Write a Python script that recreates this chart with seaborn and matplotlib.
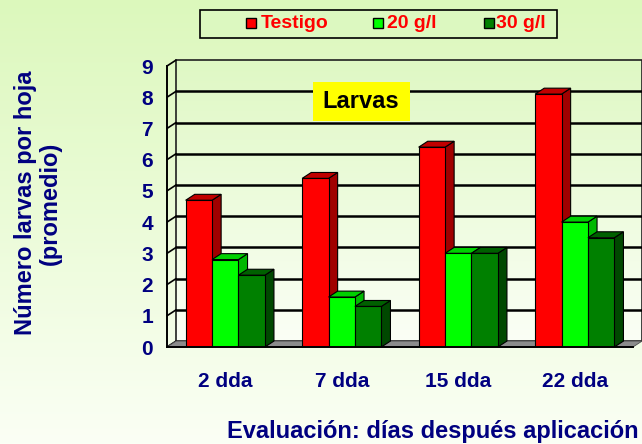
import numpy as np
import pandas as pd
import seaborn as sns
import matplotlib.pyplot as plt
from matplotlib.patches import Polygon, Rectangle
from matplotlib.colors import LinearSegmentedColormap

# data
dias = ["2 dda", "7 dda", "15 dda", "22 dda"]
tratamientos = ["Testigo", "20 g/l", "30 g/l"]
testigo = [4.7, 5.4, 6.4, 8.1]
g20 = [2.8, 1.6, 3.0, 4.0]
g30 = [2.3, 1.3, 3.0, 3.5]

front_cols = ["#ff0000", "#00ff00", "#008000"]
side_cols = ["#a00000", "#00b800", "#004800"]
top_cols = ["#c00000", "#00d000", "#006000"]
navy = "#000080"

df = pd.DataFrame({
    "dia": dias * 3,
    "trat": sum([[t] * 4 for t in tratamientos], []),
    "larvas": testigo + g20 + g30,
})

sns.set_style("white")
plt.rcParams["font.family"] = ["Liberation Sans", "DejaVu Sans"]
plt.rcParams["font.weight"] = "bold"

W, H = 642, 444
fig = plt.figure(figsize=(W / 100, H / 100), dpi=100)

def fx(px):
    return px / W

def fy(py):
    return 1 - py / H

# figure gradient background
bg = fig.add_axes([0, 0, 1, 1], zorder=-10)
grad = np.linspace(0, 1, 256).reshape(-1, 1)
cm_bg = LinearSegmentedColormap.from_list("bg", ["#dcf8bc", "#fbfff5"])
bg.imshow(grad, aspect="auto", cmap=cm_bg, extent=[0, 1, 0, 1], origin="upper")
bg.set_xlim(0, 1)
bg.set_ylim(0, 1)
bg.axis("off")

# axes placed so the front frame matches the reference
x0, x1, y0, y1 = 167, 633, 347, 66
ax = fig.add_axes([x0 / W, (H - y0) / H, (x1 - x0) / W, (y0 - y1) / H])
ax.patch.set_alpha(0)

sns.barplot(data=df, x="dia", y="larvas", hue="trat", hue_order=tratamientos,
            palette=front_cols, saturation=1, width=0.68, edgecolor="black",
            linewidth=0.8, legend=False, ax=ax)
bars = [p for p in ax.patches]

ax.set_xlim(-0.5, 3.5)
ax.set_ylim(0, 9)

dx, dy = 0.078, 0.19  # depth offset in data units

# back wall with gradient + gridlines
cm_wall = LinearSegmentedColormap.from_list("wall", ["#dff8c4", "#fbfff6"])
ax.imshow(grad, aspect="auto", cmap=cm_wall, origin="upper",
          extent=[-0.5 + dx, 3.5 + dx, dy, 9 + dy], zorder=0, clip_on=False)
ax.set_xlim(-0.5, 3.5)
ax.set_ylim(0, 9)
ax.add_patch(Rectangle((-0.5 + dx, dy), 4, 9, fill=False, edgecolor="#202020",
                       linewidth=1.2, zorder=1, clip_on=False))
for v in range(1, 9):
    ax.plot([-0.5 + dx, 3.5 + dx], [v + dy, v + dy], color="black", lw=1.8,
            zorder=1, clip_on=False)
# left side wall edges
for v in range(0, 10):
    ax.plot([-0.5, -0.5 + dx], [v, v + dy], color="black", lw=1.2, zorder=1, clip_on=False)
# floor
ax.add_patch(Polygon([(-0.5, 0), (3.5, 0), (3.5 + dx, dy), (-0.5 + dx, dy)],
                     closed=True, facecolor="#8c8c8c", edgecolor="#505050",
                     lw=0.6, zorder=1, clip_on=False))

# 3d faces for each bar
order = sorted(range(len(bars)), key=lambda i: bars[i].get_x())
n = len(dias)
for rank, i in enumerate(order):
    b = bars[i]
    k = i // n
    x, w, h = b.get_x(), b.get_width(), b.get_height()
    side = Polygon([(x + w, 0), (x + w + dx, dy), (x + w + dx, h + dy), (x + w, h)],
                   closed=True, facecolor=side_cols[k], edgecolor="black", lw=0.8,
                   zorder=2 + 2 * rank, clip_on=False)
    top = Polygon([(x, h), (x + dx, h + dy), (x + w + dx, h + dy), (x + w, h)],
                  closed=True, facecolor=top_cols[k], edgecolor="black", lw=0.8,
                  zorder=2 + 2 * rank, clip_on=False)
    ax.add_patch(side)
    ax.add_patch(top)
    b.set_zorder(3 + 2 * rank)

# axes styling
for s in ["top", "right"]:
    ax.spines[s].set_visible(False)
for s in ["left", "bottom"]:
    ax.spines[s].set_color("black")
    ax.spines[s].set_linewidth(1.4)
    ax.spines[s].set_zorder(50)
ax.set_yticks(range(0, 10))
ax.tick_params(axis="y", length=4, width=1.2, color="black", pad=6,
               labelsize=15, labelcolor=navy)
ax.set_xticks(range(4))
ax.set_xticklabels(dias)
ax.set_xticks([-0.5, 0.5, 1.5, 2.5, 3.5], minor=True)
ax.tick_params(axis="x", which="major", length=0, pad=18, labelsize=15, labelcolor=navy)
ax.tick_params(axis="x", which="minor", length=5, width=1.2, color="black")
for t in ax.get_xticklabels() + ax.get_yticklabels():
    t.set_fontweight("bold")
ax.set_xlabel("")
ax.set_ylabel("")

fig.text(fx(38), fy(203), "Número larvas por hoja\n(promedio)", rotation=90,
         ha="center", va="center", fontsize=17, fontweight="bold", color=navy,
         linespacing=1.15)
fig.text(fx(639), fy(431), "Evaluación: días después aplicación", ha="right",
         va="center", fontsize=17, fontweight="bold", color=navy)

# "Larvas" label
fig.add_artist(Rectangle((fx(313), fy(121)), fx(410) - fx(313), fy(82) - fy(121),
                         transform=fig.transFigure, facecolor="#ffff00",
                         edgecolor="none", zorder=60))
fig.text(fx(361), fy(102), "Larvas", ha="center", va="center", fontsize=17,
         fontweight="bold", color="black", zorder=61)

# legend (drawn by hand to match the spacing of the original)
fig.add_artist(Rectangle((fx(200), fy(38)), fx(557) - fx(200), fy(10) - fy(38),
                         transform=fig.transFigure, facecolor="#dcf8c0",
                         edgecolor="black", linewidth=1.2, zorder=60))
marker_x = [251, 378, 489]
text_x = [261, 387, 496]
for c, lab, mx, tx in zip(front_cols, tratamientos, marker_x, text_x):
    fig.add_artist(Rectangle((fx(mx - 5), fy(28)), fx(10), fy(18) - fy(28),
                             transform=fig.transFigure, facecolor=c,
                             edgecolor="black", linewidth=1, zorder=61))
    fig.text(fx(tx), fy(23), lab, ha="left", va="center", fontsize=14,
             fontweight="bold", color="#ff0000", zorder=61)

fig.savefig("out.png", dpi=100)
